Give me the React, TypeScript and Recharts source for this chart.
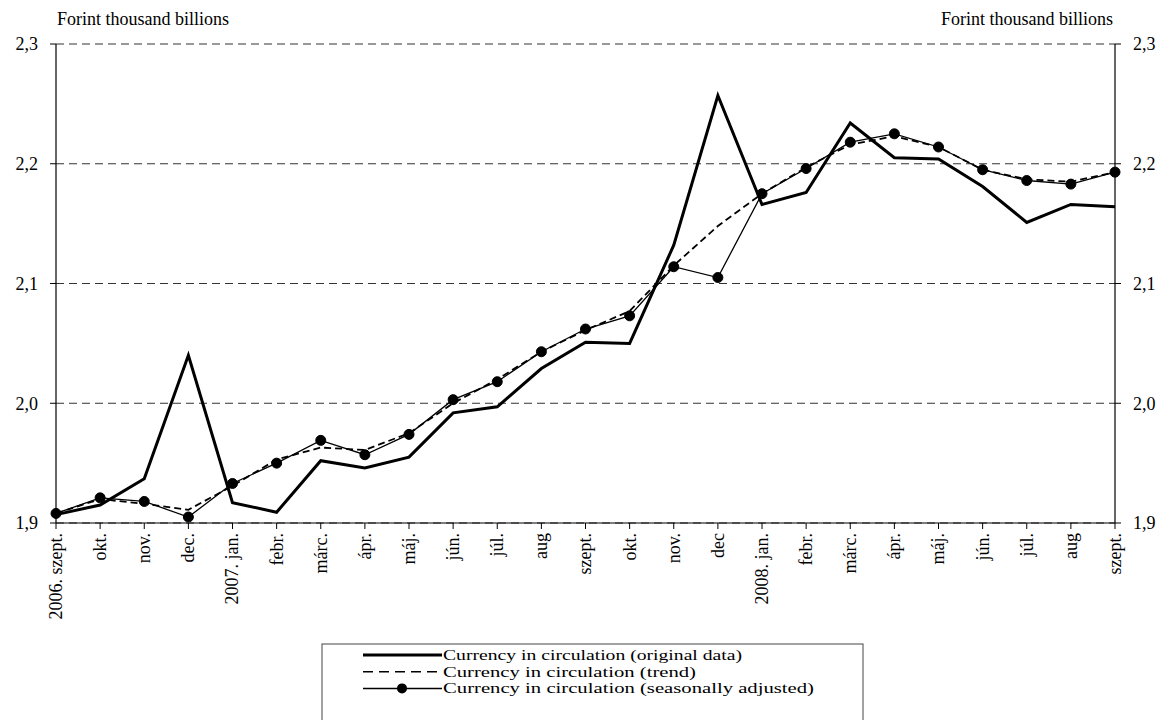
import React from 'react';
import { LineChart, Line, XAxis, YAxis, CartesianGrid } from 'recharts';

const categories = ['2006. szept.', 'okt.', 'nov.', 'dec.', '2007. jan.', 'febr.', 'márc.', 'ápr.', 'máj.', 'jún.', 'júl.', 'aug', 'szept.', 'okt.', 'nov.', 'dec', '2008. jan.', 'febr.', 'márc.', 'ápr.', 'máj.', 'jún.', 'júl.', 'aug', 'szept.'];

const originalData = [1.907, 1.915, 1.937, 2.040, 1.917, 1.909, 1.952, 1.946, 1.955, 1.992, 1.997, 2.029, 2.051, 2.050, 2.132, 2.257, 2.166, 2.176, 2.234, 2.205, 2.204, 2.181, 2.151, 2.166, 2.164];
const trendData = [1.908, 1.920, 1.916, 1.911, 1.931, 1.953, 1.963, 1.961, 1.975, 2.000, 2.020, 2.043, 2.061, 2.077, 2.115, 2.148, 2.175, 2.197, 2.216, 2.223, 2.214, 2.195, 2.187, 2.185, 2.193];
const seasonalData = [1.908, 1.921, 1.918, 1.905, 1.933, 1.950, 1.969, 1.957, 1.974, 2.003, 2.018, 2.043, 2.062, 2.073, 2.114, 2.105, 2.175, 2.196, 2.218, 2.225, 2.214, 2.195, 2.186, 2.183, 2.193];

const yTicks = [1.9, 2.0, 2.1, 2.2, 2.3];
const unitLabel = 'Forint thousand billions';
const seriesNames = [
  'Currency in circulation (original data)',
  'Currency in circulation (trend)',
  'Currency in circulation (seasonally adjusted)',
];
const legendTextWidths = [299, 253, 371];

const FONT = '"Liberation Serif", "Times New Roman", serif';
const FS = 18;

const data = categories.map((c, i) => ({
  i,
  original: originalData[i],
  trend: trendData[i],
  seasonal: seasonalData[i],
}));

const fmt = (v: number) => v.toFixed(1).replace('.', ',');

const XTick = (props: any) => {
  const { x, y, payload } = props;
  return (
    <g transform={`translate(${x},${y})`}>
      <text
        transform="rotate(-90)"
        x={-3}
        y={0}
        dy="0.33em"
        textAnchor="end"
        fill="#000"
        fontSize={FS}
        fontFamily={FONT}
      >
        {categories[payload.value]}
      </text>
    </g>
  );
};

const LegendBox = () => (
  <svg
    width={543}
    height={78}
    style={{ position: 'absolute', left: 321, top: 643, display: 'block' }}
  >
    <rect x={1} y={1} width={541} height={80} fill="#fff" stroke="#444" strokeWidth={1} />
    {seriesNames.map((name, k) => {
      const cy = 12 + k * 16.7;
      return (
        <g key={k}>
          {k === 0 && <line x1={42} y1={cy} x2={121} y2={cy} stroke="#000" strokeWidth={3} />}
          {k === 1 && <line x1={42} y1={cy} x2={121} y2={cy} stroke="#000" strokeWidth={1.6} strokeDasharray="10 6" />}
          {k === 2 && (
            <g>
              <line x1={42} y1={cy} x2={121} y2={cy} stroke="#000" strokeWidth={1.5} />
              <circle cx={81} cy={cy} r={5} fill="#000" />
            </g>
          )}
          <text
            x={122}
            y={cy}
            dy="0.32em"
            fontSize={15}
            fontFamily={FONT}
            fill="#000"
            textLength={legendTextWidths[k]}
            lengthAdjust="spacingAndGlyphs"
          >
            {name}
          </text>
        </g>
      );
    })}
  </svg>
);

export default function App() {
  return (
    <div style={{ position: 'absolute', left: 0, top: 0, width: 1163, height: 720, background: '#fff', overflow: 'hidden' }}>
      <div style={{ position: 'absolute', left: 57, top: 9, fontFamily: FONT, fontSize: FS, color: '#000', whiteSpace: 'nowrap' }}>
        {unitLabel}
      </div>
      <div style={{ position: 'absolute', right: 50, top: 9, fontFamily: FONT, fontSize: FS, color: '#000', whiteSpace: 'nowrap' }}>
        {unitLabel}
      </div>
      <LineChart
        width={1163}
        height={720}
        data={data}
        margin={{ top: 44, right: 0, left: 0, bottom: 97 }}
      >
        <CartesianGrid
          yAxisId="left"
          vertical={false}
          stroke="#333"
          strokeDasharray="8 5"
          strokeWidth={1}
        />
        <XAxis
          dataKey="i"
          type="category"
          interval={0}
          height={100}
          tick={<XTick />}
          tickSize={6}
          tickMargin={1}
          axisLine={{ stroke: '#000', strokeWidth: 1.2 }}
          tickLine={{ stroke: '#000' }}
        />
        <YAxis
          yAxisId="left"
          width={56}
          domain={[1.9, 2.3]}
          ticks={yTicks}
          tickFormatter={fmt}
          tickSize={6}
          tickMargin={12}
          axisLine={{ stroke: '#000', strokeWidth: 1.2 }}
          tickLine={{ stroke: '#000' }}
          tick={{ fill: '#000', fontSize: FS, fontFamily: FONT }}
          allowDataOverflow
        />
        <YAxis
          yAxisId="right"
          orientation="right"
          width={48}
          domain={[1.9, 2.3]}
          ticks={yTicks}
          tickFormatter={fmt}
          tickSize={6}
          tickMargin={12}
          axisLine={{ stroke: '#000', strokeWidth: 1.2 }}
          tickLine={{ stroke: '#000' }}
          tick={{ fill: '#000', fontSize: FS, fontFamily: FONT }}
          allowDataOverflow
        />
        <Line
          yAxisId="left"
          dataKey="trend"
          stroke="#000"
          strokeWidth={1.8}
          strokeDasharray="7 4"
          dot={false}
          isAnimationActive={false}
        />
        <Line
          yAxisId="left"
          dataKey="seasonal"
          stroke="#000"
          strokeWidth={1.3}
          dot={{ r: 5, fill: '#000', stroke: '#000', strokeWidth: 1 }}
          isAnimationActive={false}
        />
        <Line
          yAxisId="left"
          dataKey="original"
          stroke="#000"
          strokeWidth={3}
          dot={false}
          isAnimationActive={false}
        />
      </LineChart>
      <LegendBox />
    </div>
  );
}
